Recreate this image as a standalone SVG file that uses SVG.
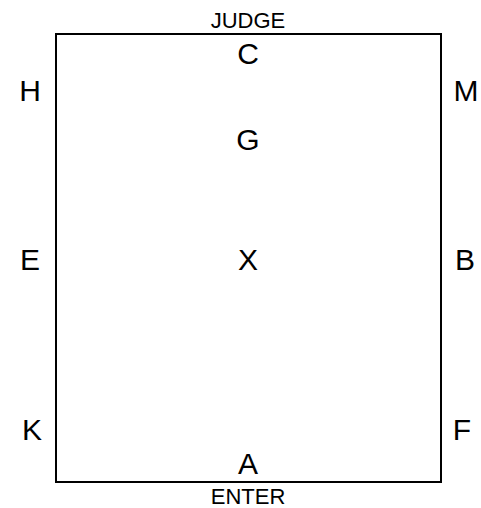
<svg xmlns="http://www.w3.org/2000/svg" width="481" height="508" viewBox="0 0 481 508">
<style>
.lbl{font-family:"Liberation Sans",Arial,sans-serif;font-size:30px;fill:#000;text-anchor:middle}
.sm{font-family:"Liberation Sans",Arial,sans-serif;font-size:22px;fill:#000;text-anchor:middle}
</style>
<rect width="481" height="508" fill="#fff"/>
<g id="arena"><rect x="56" y="34" width="385" height="448" fill="none" stroke="#000" stroke-width="2"/></g>
<g id="connectors"></g>
<g id="judge"><text class="sm" x="248" y="28">JUDGE</text></g>
<g id="enter"><text class="sm" x="248" y="504">ENTER</text></g>
<g id="C"><text class="lbl" x="248" y="64">C</text></g>
<g id="G"><text class="lbl" x="248" y="150">G</text></g>
<g id="X"><text class="lbl" x="248" y="270">X</text></g>
<g id="A"><text class="lbl" x="248" y="474">A</text></g>
<g id="H"><text class="lbl" x="30" y="101">H</text></g>
<g id="M"><text class="lbl" x="466" y="101">M</text></g>
<g id="E"><text class="lbl" x="30" y="270">E</text></g>
<g id="B"><text class="lbl" x="465" y="270">B</text></g>
<g id="K"><text class="lbl" x="32" y="440">K</text></g>
<g id="F"><text class="lbl" x="462" y="440">F</text></g>
</svg>
